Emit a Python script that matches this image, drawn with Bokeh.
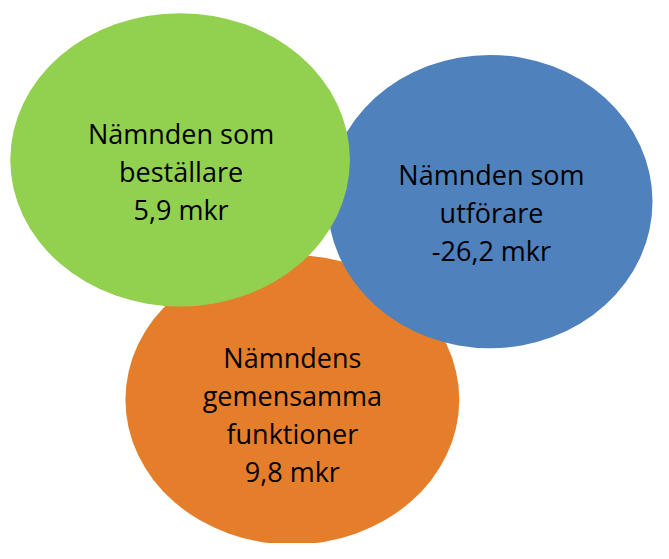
from bokeh.plotting import figure
from bokeh.models import Range1d, ColumnDataSource
from bokeh.core.properties import value
from bokeh.embed import file_html
from bokeh.resources import INLINE

# ---- data ----
groups = ["Nämnden som beställare", "Nämnden som utförare", "Nämndens gemensamma funktioner"]
label_lines = [["Nämnden som", "beställare"],
               ["Nämnden som", "utförare"],
               ["Nämndens", "gemensamma", "funktioner"]]
amounts_mkr = [5.9, -26.2, 9.8]
unit = "mkr"

# ---- layout (pixel coordinates of the reference picture, 669 x 559) ----
colors = ["#92D050", "#4F81BD", "#E47E2B"]
centers_x = [184, 501.5, 299]
centers_y = [164, 207, 411]
widths = [348, 333, 342]
heights = [302, 302, 298]
text_x = [185, 503, 299]
first_baseline = [137, 179, 368]
line_step = 39
draw_order = [2, 1, 0]  # orange bottom, blue, green on top

W, H = 653, 543
p = figure(width=W, height=H, output_backend="svg", toolbar_location=None,
           x_range=Range1d(0, 669), y_range=Range1d(559, 0),
           min_border=0, outline_line_color=None, background_fill_color="white")
p.axis.visible = False
p.grid.visible = False

for i in draw_order:
    p.ellipse(x=[centers_x[i]], y=[centers_y[i]], width=[widths[i]], height=[heights[i]],
              fill_color=colors[i], line_color=None)

def fmt(v):
    return f"{v:.1f}".replace(".", ",") + " " + unit

tx, ty, tt = [], [], []
for i in range(len(groups)):
    lines = label_lines[i] + [fmt(amounts_mkr[i])]
    for k, line in enumerate(lines):
        tx.append(text_x[i])
        ty.append(first_baseline[i] + k * line_step)
        tt.append(line)

src = ColumnDataSource(dict(x=tx, y=ty, text=tt))
p.text(x="x", y="y", text="text", source=src, text_align="center", text_baseline="alphabetic",
       text_font=value("Open Sans"), text_font_size="27px", text_color="#000000")

open("out.html", "w").write(file_html(p, INLINE))
